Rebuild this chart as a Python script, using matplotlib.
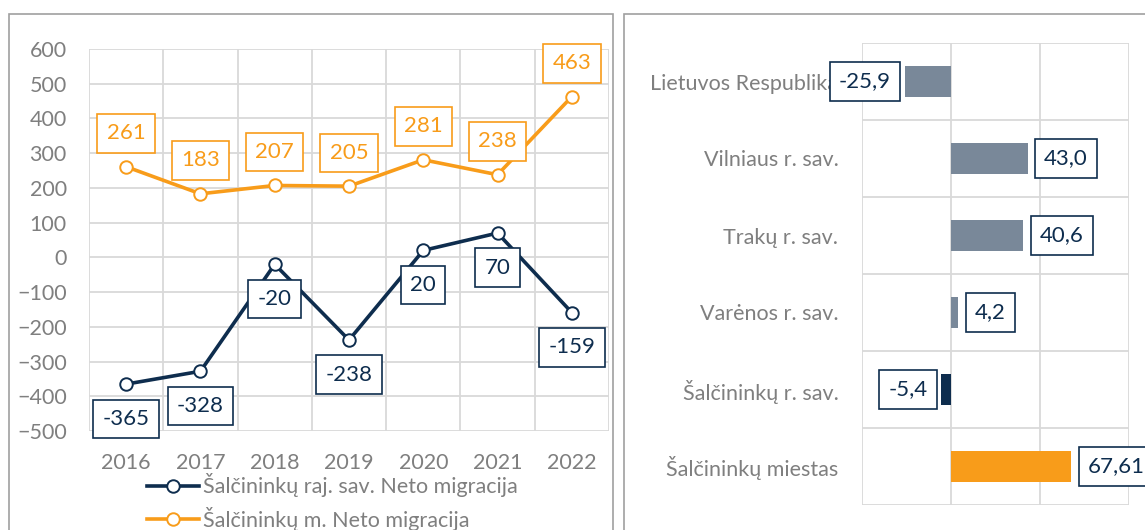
import numpy as np
import matplotlib
matplotlib.use('Agg')
import matplotlib.pyplot as plt
from matplotlib.patches import Rectangle

plt.rcParams['font.family'] = ['Lato', 'DejaVu Sans']

# data
years = ['2016', '2017', '2018', '2019', '2020', '2021', '2022']
raj_sav = [-365, -328, -20, -238, 20, 70, -159]  # Šalčininkų raj. sav.
miestas = [261, 183, 207, 205, 281, 238, 463]    # Šalčininkų m.
raj_label = 'Šalčininkų raj. sav. Neto migracija'
m_label = 'Šalčininkų m. Neto migracija'

regions = ['Lietuvos Respublika', 'Vilniaus r. sav.', 'Trakų r. sav.',
           'Varėnos r. sav.', 'Šalčininkų r. sav.', 'Šalčininkų miestas']
reg_values = [-25.9, 43.0, 40.6, 4.2, -5.4, 67.61]
reg_text = ['-25,9', '43,0', '40,6', '4,2', '-5,4', '67,61']

NAVY = '#0e2d4e'
ORANGE = '#f89c1a'
SLATE = '#798899'
GRID = '#d9d9d9'
TXT = '#7f7f7f'
FS = 15.5
LFS = 16  # data label font

W, H = 1145, 530
fig = plt.figure(figsize=(W / 100, H / 100), dpi=100)

def fr(x0, y0, x1, y1):  # pixel box (top-left origin) -> figure fraction
    return [x0 / W, 1 - y1 / H, (x1 - x0) / W, (y1 - y0) / H]

# panel borders
fig.patches.append(Rectangle((9 / W, -0.1), (613 - 9) / W, 1.1 - 14 / H,
                             transform=fig.transFigure, fill=False,
                             edgecolor='#a0a0a0', lw=1.2))
fig.patches.append(Rectangle((624 / W, -0.1), 0.5, 1.1 - 14 / H,
                             transform=fig.transFigure, fill=False,
                             edgecolor='#a0a0a0', lw=1.2))

# ---- line chart
ax = fig.add_axes(fr(89, 49, 609, 431))
x = np.arange(len(years))
ax.plot(x, raj_sav, color=NAVY, lw=2.6, marker='o', ms=9, mfc='white',
        mec=NAVY, mew=1.4, label=raj_label, zorder=3)
ax.plot(x, miestas, color=ORANGE, lw=2.6, marker='o', ms=9, mfc='white',
        mec=ORANGE, mew=1.4, label=m_label, zorder=3)
for i in range(len(years)):
    ax.annotate(str(miestas[i]), (x[i], miestas[i]), xytext=(0, 24),
                textcoords='offset points', ha='center', va='center',
                fontsize=LFS, color=ORANGE, zorder=5,
                bbox=dict(boxstyle='square,pad=0.42', fc='white', ec=ORANGE, lw=1.2))
    ax.annotate(str(raj_sav[i]), (x[i], raj_sav[i]), xytext=(0, -25),
                textcoords='offset points', ha='center', va='center',
                fontsize=LFS, color=NAVY, zorder=5,
                bbox=dict(boxstyle='square,pad=0.42', fc='white', ec=NAVY, lw=1.2))
ax.set_xlim(-0.5, len(years) - 0.5)
ax.set_ylim(-500, 600)
ax.set_yticks(np.arange(-500, 601, 100))
ax.set_xticks(x)
ax.set_xticklabels(years)
ax.set_xticks(np.arange(-0.5, len(years), 1), minor=True)
ax.grid(True, axis='y', color=GRID, lw=1.3)
ax.grid(True, axis='x', which='minor', color=GRID, lw=1.3)
ax.tick_params(which='both', length=0, labelsize=FS, colors=TXT)
ax.tick_params(axis='y', pad=16)
ax.tick_params(axis='x', pad=16)
for s in ax.spines.values():
    s.set_visible(False)
ax.set_axisbelow(True)
ax.legend(loc='center left', bbox_to_anchor=(147 / W, 1 - 502 / H),
          bbox_transform=fig.transFigure, frameon=False, fontsize=FS,
          labelcolor=TXT, borderpad=0, borderaxespad=0, handlelength=2.4,
          handletextpad=0.2, labelspacing=0.45)

# ---- bar chart
bx = fig.add_axes(fr(862, 43, 1129, 505))
y = np.arange(len(regions))
colors = [SLATE, SLATE, SLATE, SLATE, NAVY, ORANGE]
bx.barh(y, reg_values, height=0.4, color=colors, zorder=3)
for i, v in enumerate(reg_values):
    off = 12 if v >= 0 else -10
    bx.annotate(reg_text[i], (v, y[i]), xytext=(off, 0), textcoords='offset points',
                ha='left' if v >= 0 else 'right', va='center', fontsize=LFS,
                color=NAVY, zorder=5, annotation_clip=False,
                bbox=dict(boxstyle='square,pad=0.42', fc='white', ec=NAVY, lw=1.2))
bx.set_xlim(-50, 100)
bx.set_ylim(len(regions) - 0.5, -0.5)
bx.set_xticks([-50, 0, 50, 100])
bx.set_yticks(y)
bx.set_yticklabels(regions)
bx.set_yticks(np.arange(-0.5, len(regions), 1), minor=True)
bx.grid(True, axis='x', color=GRID, lw=1.3)
bx.grid(True, axis='y', which='minor', color=GRID, lw=1.3)
bx.tick_params(which='both', length=0, labelsize=FS, colors=TXT)
bx.tick_params(axis='y', pad=17)
bx.tick_params(axis='x', labelbottom=False)
for s in bx.spines.values():
    s.set_visible(False)
bx.set_axisbelow(True)

fig.savefig('out.png', dpi=100)
